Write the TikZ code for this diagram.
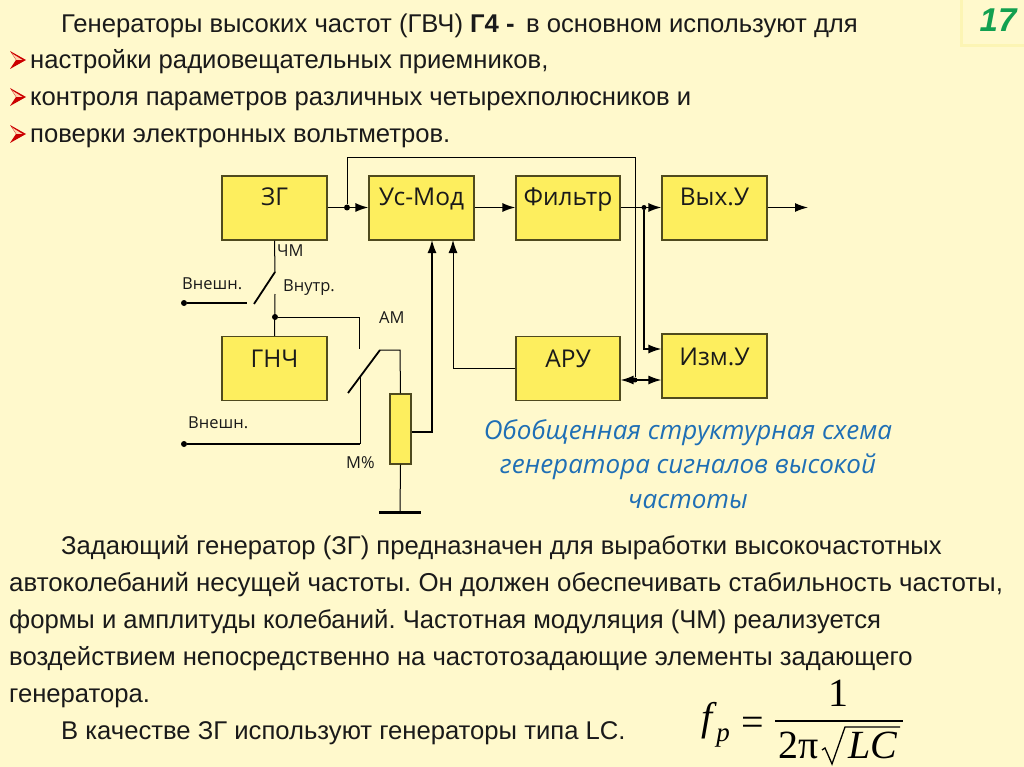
\documentclass[tikz,border=0pt]{standalone}
\usepackage{fontspec}
\setmainfont{Liberation Sans}
\newfontfamily\boxfont{Open Sans}
\newfontfamily\mathfont{Liberation Serif}
\usetikzlibrary{arrows.meta}
\frenchspacing
\definecolor{bg}{HTML}{FFF9CC}
\definecolor{boxfill}{HTML}{FDEE5E}
\definecolor{boxline}{HTML}{4F4A1E}
\definecolor{numframe}{HTML}{FCF5B4}
\definecolor{numgreen}{HTML}{12A050}
\definecolor{capblue}{HTML}{1F6FB5}
\definecolor{txt}{HTML}{1A1A1A}
\tikzset{
 x=1pt,y=-1pt,
 blockbox/.style={draw=boxline,fill=boxfill,line width=1.2pt,inner sep=0pt},
 blocklabel/.style={font=\boxfont\fontsize{24.5}{24.5}\selectfont,text=txt,anchor=base},
 smalltext/.style={font=\boxfont\fontsize{16.5}{16.5}\selectfont,text=txt,anchor=base west,inner sep=0pt},
 body/.style={font=\fontsize{25.65}{25.65}\selectfont,text=txt,anchor=base west,inner sep=0pt},
 captext/.style={font=\boxfont\itshape\fontsize{26}{26}\selectfont,text=capblue,anchor=base,inner sep=0pt},
 wire/.style={draw=black,line width=1pt},
 bold wire/.style={draw=black,line width=1.8pt},
 arr/.style={-{Latex[length=13pt,width=9pt]}},
 dot/.style={circle,fill=black,inner sep=0pt,minimum size=6pt},
 mth/.style={font=\mathfont\fontsize{40}{40}\selectfont,text=black,anchor=base,inner sep=0pt},
 chev/.pic={
  \fill[red!80!black] (0,-9)--(16,0)--(0,9)--(6,0)--cycle;
  \fill[bg!85!red] (2,-6.5)--(12.5,0)--(6.5,0)--cycle;}
}
\begin{document}
\begin{tikzpicture}
\useasboundingbox (0,0) rectangle (1024,767);
\fill[bg] (0,0) rectangle (1024,767);
\draw[numframe,line width=3pt] (961,-3) -- (961,46) -- (1027,46);
\node[font=\bfseries\itshape\fontsize{33}{33}\selectfont,text=numgreen,anchor=base,inner sep=0pt] (num) at (998,32) {17};

\node[body] (t1) at (61,33) {Генераторы высоких частот (ГВЧ) \textbf{Г4 -}\, в основном используют для};
\pic at (10,60) {chev};
\node[body] (t2) at (30,69) {настройки радиовещательных приемников,};
\pic at (10,97) {chev};
\node[body] (t3) at (30,106) {контроля параметров различных четырехполюсников и};
\pic at (10,134) {chev};
\node[body] (t4) at (30,143) {поверки электронных вольтметров.};

% blocks
\node[blockbox,minimum width=105pt,minimum height=64pt] (zg) at (274.5,208) {};
\node[blockbox,minimum width=105pt,minimum height=64pt] (usmod) at (421.5,208) {};
\node[blockbox,minimum width=104pt,minimum height=64pt] (filt) at (568,208) {};
\node[blockbox,minimum width=105pt,minimum height=64pt] (vyh) at (714.5,208) {};
\node[blockbox,minimum width=105pt,minimum height=64pt] (gnch) at (274.5,368.5) {};
\node[blockbox,minimum width=104pt,minimum height=64pt] (aru) at (568,368.5) {};
\node[blockbox,minimum width=105pt,minimum height=64pt] (izm) at (714.5,366) {};
\node[blockbox,minimum width=21pt,minimum height=70pt] (pot) at (400.5,429) {};
\node[blocklabel] at (274.5,206) {ЗГ};
\node[blocklabel] at (421.5,206) {Ус-Мод};
\node[blocklabel] at (568,206) {Фильтр};
\node[blocklabel] at (714.5,206) {Вых.У};
\node[blocklabel] at (274.5,367) {ГНЧ};
\node[blocklabel] at (568,367) {АРУ};
\node[blocklabel] at (714.5,365) {Изм.У};

% junctions and free ends
\node[dot] (j1) at (347,207.5) {};
\node[dot,minimum size=5pt] (j2) at (644,207.5) {};
\node[dot,minimum size=5pt] (j3) at (635,380) {};
\node[dot] (j4) at (275,317) {};
\node[dot] (ext1) at (184,303) {};
\node[dot] (ext2) at (184,444) {};
\coordinate (sw1top) at (275,272);
\coordinate (sw1arm) at (254,304);
\coordinate (sw1low) at (275,294);
\coordinate (sw1ext) at (247,303);
\coordinate (sw2fix) at (359,349);
\coordinate (sw2a) at (380,350);
\coordinate (sw2b) at (348,393);
\coordinate (sw2low) at (360,377);
\coordinate (sw2ext) at (360,444);
\coordinate (out) at (808,207.5);
\coordinate (gnd) at (400,512);

% connectors
\draw[wire,line width=1.5pt,arr] (zg.east|-j1) -- (usmod.west|-j1);
\draw[wire,line width=1.5pt,arr] (usmod.east|-j1) -- (filt.west|-j1);
\draw[wire,line width=1.5pt,arr] (filt.east|-j2) -- (vyh.west|-j2);
\draw[wire,line width=1.5pt,arr] (vyh.east|-j2) -- (out);
\draw[wire] (j1) -- (347,158) -- (635,158) -- (j3);
\draw[bold wire,arr,line width=1.5pt] (j2) -- (644,349) -- (izm.west|-0,349);
\draw[wire,line width=1.5pt,{Latex[length=13pt,width=9pt]}-{Latex[length=13pt,width=9pt]}] (aru.east|-j3) -- (izm.west|-j3);
\draw[wire,arr] (aru.west) -- (453,368.5) -- (453,240);
\draw[wire,arr,line width=1.4pt] (pot.east|-0,432) -- (432,432) -- (432,240);
\draw[wire] (zg.south) -- (sw1top);
\draw[bold wire] (sw1top) -- (sw1arm);
\draw[wire] (sw1low) -- (gnch.north);
\draw[bold wire,line width=1.5pt] (ext1) -- (sw1ext);
\draw[wire] (j4) -- (359,317) -- (sw2fix);
\draw[bold wire] (sw2b) -- (sw2a);
\draw[wire] (sw2a) -- (400,350) -- (pot.north);
\draw[wire] (sw2low) -- (sw2ext);
\draw[bold wire,line width=1.5pt] (ext2) -- (sw2ext);
\draw[wire] (pot.south) -- (gnd);
\draw[draw=black,line width=3pt] (379,512) -- (421,512);

% small labels
\node[smalltext] at (277,256) {ЧМ};
\node[smalltext] at (182,289) {Внешн.};
\node[smalltext] at (283,291) {Внутр.};
\node[smalltext] at (379,323) {АМ};
\node[smalltext] at (188,428) {Внешн.};
\node[smalltext] at (346,468) {М\%};

% caption
\node[captext] at (688,439) {Обобщенная структурная схема};
\node[captext] at (688,473) {генератора сигналов высокой};
\node[captext] at (688,508) {частоты};

% bottom text
\node[body] at (61,554) {Задающий генератор (ЗГ) предназначен для выработки высокочастотных};
\node[body,font=\fontsize{25.85}{25.85}\selectfont] at (9,591) {автоколебаний несущей частоты. Он должен обеспечивать стабильность частоты,};
\node[body] at (9,628) {формы и амплитуды колебаний. Частотная модуляция (ЧМ) реализуется};
\node[body] at (9,665) {воздействием непосредственно на частотозадающие элементы задающего};
\node[body] at (9,702) {генератора.};
\node[body] at (61,739) {В качестве ЗГ используют генераторы типа LC.};

% formula
\node[mth] at (707,730) {\itshape f};
\node[mth,font=\mathfont\itshape\fontsize{27}{27}\selectfont] at (723,741) {p};
\node[mth] at (753,735) {=};
\node[mth] at (838,706) {1};
\draw[line width=1.6pt] (775,721) -- (903,721);
\node[mth,anchor=base west] at (778,758) {2π};
\draw[line width=1.3pt] (822,750) -- (825,748) -- (832,764) -- (845,727) -- (900,727);
\node[mth,anchor=base west] at (848,758) {\itshape LC};
\end{tikzpicture}
\end{document}
